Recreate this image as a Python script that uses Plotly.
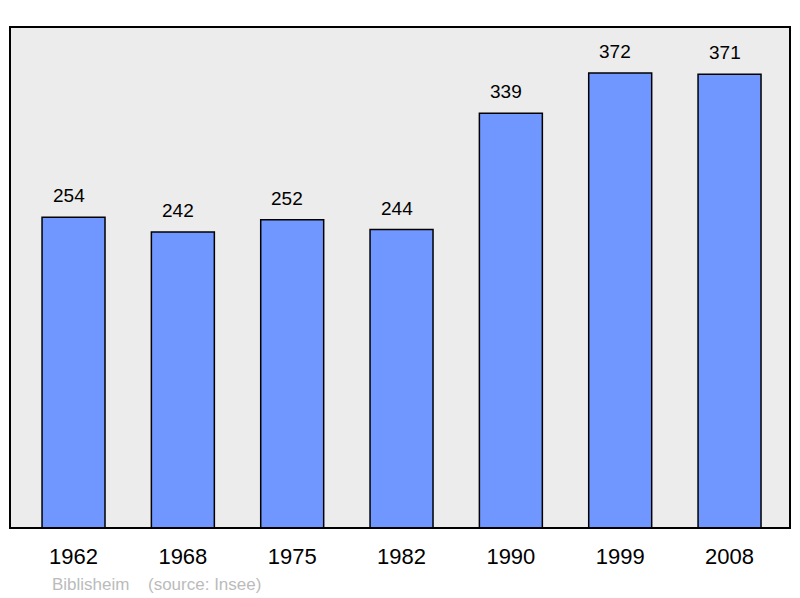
import plotly.graph_objects as go

years = ["1962", "1968", "1975", "1982", "1990", "1999", "2008"]
population = [254, 242, 252, 244, 339, 372, 371]
town = "Biblisheim"
source = "(source: Insee)"

fig = go.Figure()
fig.add_trace(go.Bar(
    x=list(range(len(years))), y=population,
    width=0.576,
    marker=dict(color="#7096ff", line=dict(color="#000000", width=1.5)),
    hoverinfo="skip",
))

for i, v in enumerate(population):
    fig.add_annotation(x=i, y=v, text=str(v), showarrow=False,
                       yanchor="bottom", yshift=9, xshift=-5,
                       font=dict(family="Liberation Sans, Arial", size=19, color="#000"))

fig.add_annotation(xref="paper", yref="paper", x=40/780, y=-0.112,
                   xanchor="left", yanchor="middle", text=town, showarrow=False,
                   font=dict(family="Liberation Sans, Arial", size=17, color="#bbbbbb"))
fig.add_annotation(xref="paper", yref="paper", x=136/780, y=-0.112,
                   xanchor="left", yanchor="middle", text=source, showarrow=False,
                   font=dict(family="Liberation Sans, Arial", size=17, color="#bbbbbb"))

fig.add_shape(type="rect", xref="paper", yref="paper", x0=0, y0=0, x1=1, y1=1,
              line=dict(color="#000", width=2), layer="above")

fig.update_layout(
    width=800, height=598,
    margin=dict(l=10, r=10, t=27, b=70),
    paper_bgcolor="#ffffff", plot_bgcolor="#ececec",
    showlegend=False,
    xaxis=dict(range=[-0.581, 6.553], tickmode="array",
               tickvals=list(range(len(years))), ticktext=years,
               showgrid=False, zeroline=False, ticks="",
               tickfont=dict(family="Liberation Sans, Arial", size=22, color="#000"),
               ticklabelstandoff=13),
    yaxis=dict(range=[0, 409.6], showgrid=False, zeroline=False,
               showticklabels=False, ticks=""),
)

fig.write_html("out.html", config={"displayModeBar": False},
               post_script="document.body.style.margin='0';")
